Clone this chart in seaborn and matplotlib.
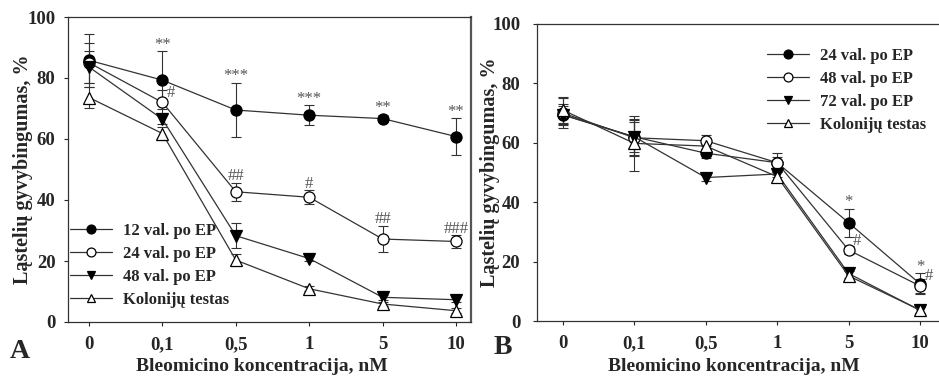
import numpy as np
import pandas as pd
import seaborn as sns
import matplotlib.pyplot as plt

# x categories (shared by both panels)
conc_labels = ['0', '0,1', '0,5', '1', '5', '10']

# panel A: viability (%) and error
a_names = ['12 val. po EP', '24 val. po EP', '48 val. po EP', 'Kolonijų testas']
a_12 = [85.8, 79.3, 69.5, 67.8, 66.7, 60.8]
a_12_err = [8.6, 9.5, 9.0, 3.2, 1.2, 6.0]
a_24 = [85.0, 72.0, 42.7, 40.9, 27.2, 26.4]
a_24_err = [6.6, 4.0, 3.0, 2.3, 4.3, 2.0]
a_48 = [83.6, 66.5, 28.3, 20.8, 8.1, 7.3]
a_48_err = [5.4, 1.5, 4.0, 0.8, 0.8, 0.8]
a_kol = [73.6, 61.8, 20.3, 10.9, 5.9, 3.7]
a_kol_err = [3.3, 2.0, 2.0, 0.8, 0.8, 0.8]

# panel B
b_names = ['24 val. po EP', '48 val. po EP', '72 val. po EP', 'Kolonijų testas']
b_24 = [69.4, 62.0, 56.5, 53.3, 33.1, 12.5]
b_24_err = [3.5, 6.0, 1.5, 2.0, 4.7, 3.5]
b_48 = [70.0, 61.7, 60.7, 53.3, 23.9, 11.8]
b_48_err = [5.0, 6.0, 1.8, 3.2, 1.5, 2.3]
b_72 = [69.4, 62.0, 48.3, 49.5, 16.0, 3.6]
b_72_err = [3.0, 5.0, 1.0, 1.0, 1.5, 1.0]
b_kol = [71.0, 59.8, 58.9, 48.6, 15.2, 3.7]
b_kol_err = [4.5, 9.2, 1.5, 1.5, 1.5, 1.0]

# significance marks: (series index, point index, text, where)
a_marks = [(0, 1, '**', 'up'), (0, 2, '***', 'up'), (0, 3, '***', 'up'),
           (0, 4, '**', 'up'), (0, 5, '**', 'up'),
           (1, 1, '#', 'right'), (1, 2, '##', 'up'), (1, 3, '#', 'up'),
           (1, 4, '##', 'up'), (1, 5, '###', 'up')]
b_marks = [(0, 4, '*', 'up'), (1, 4, '#', 'right'),
           (0, 5, '*', 'up'), (1, 5, '#', 'right')]

# marker style per series position: filled circle, open circle, filled down-tri, open up-tri
STYLES = [('o', 'black'), ('o', 'white'), ('v', 'black'), ('^', 'white')]

sns.set_style('ticks')
plt.rcParams['font.family'] = ['Liberation Serif', 'DejaVu Serif']
plt.rcParams['font.weight'] = 'bold'

LEG_PROP = {'family': 'Liberation Serif', 'weight': 'bold', 'size': 12}


def draw_panel(ax, names, values, errs, marks, xlim, ytick_pad):
    x = np.arange(len(conc_labels))
    for i, (name, v, e) in enumerate(zip(names, values, errs)):
        marker, face = STYLES[i]
        ax.errorbar(x, v, yerr=e, fmt='none', ecolor='#333333',
                    elinewidth=0.8, capsize=3.5, capthick=0.8, zorder=2)
        sns.lineplot(x=x, y=v, ax=ax, color='#333333', linewidth=0.9,
                     marker=marker, markersize=8, markerfacecolor=face,
                     markeredgecolor='black', markeredgewidth=0.9,
                     label=name, zorder=3)
    for si, pi, txt, where in marks:
        v = values[si][pi]
        e = errs[si][pi]
        if where == 'up':
            ax.text(pi, v + e - 0.5, txt, ha='center', va='bottom',
                    fontsize=12, color='#555555', fontweight='normal')
        else:
            ax.text(pi + 0.06, v + 0.5, txt, ha='left', va='bottom',
                    fontsize=12, color='#555555', fontweight='normal')
    ax.set_xlim(*xlim)
    ax.set_ylim(0, 100)
    ax.set_xticks(x)
    ax.set_xticklabels(conc_labels)
    ax.set_yticks(range(0, 101, 20))
    ax.tick_params(axis='x', direction='out', length=3, width=0.8,
                   labelsize=13.5, pad=7)
    ax.tick_params(axis='y', direction='out', length=3, width=0.8,
                   labelsize=13.5, pad=ytick_pad)
    for lab in ax.get_xticklabels() + ax.get_yticklabels():
        lab.set_fontweight('bold')
    ax.set_xlabel('Bleomicino koncentracija, nM', fontsize=14, fontweight='bold')
    ax.set_ylabel('Ląstelių gyvybingumas, %', fontsize=14.5, fontweight='bold')
    for sp in ax.spines.values():
        sp.set_color('#333333')
        sp.set_linewidth(0.9)


fig = plt.figure(figsize=(9.39, 3.79), dpi=100)
W, H = 939, 379

axA = fig.add_axes([68 / W, 57 / H, 403 / W, 305 / H])
draw_panel(axA, a_names, [a_12, a_24, a_48, a_kol],
           [a_12_err, a_24_err, a_48_err, a_kol_err], a_marks,
           (-0.286, 5.204), 6)
axA.spines['right'].set_color('#555555')
axA.spines['right'].set_linewidth(1.6)
axA.xaxis.set_label_coords(0.481, -0.117)
axA.yaxis.set_label_coords(-0.087, 0.5)
axA.legend(loc='upper left', bbox_to_anchor=(70 / W, 1 - 223 / H),
           bbox_transform=fig.transFigure, frameon=False, borderpad=0,
           borderaxespad=0, handlelength=2.5, handletextpad=0.7,
           labelspacing=0.42, markerscale=0.8, prop=LEG_PROP)

axB = fig.add_axes([537 / W, 58 / H, 402 / W, 297 / H])
draw_panel(axB, b_names, [b_24, b_48, b_72, b_kol],
           [b_24_err, b_48_err, b_72_err, b_kol_err], b_marks,
           (-0.364, 5.266), 9)
axB.spines['right'].set_visible(False)
axB.xaxis.set_label_coords(0.49, -0.124)
axB.yaxis.set_label_coords(-0.092, 0.5)
axB.legend(loc='upper left', bbox_to_anchor=(767 / W, 1 - 48 / H),
           bbox_transform=fig.transFigure, frameon=False, borderpad=0,
           borderaxespad=0, handlelength=2.5, handletextpad=0.7,
           labelspacing=0.42, markerscale=0.8, prop=LEG_PROP)

fig.text(20 / W, 1 - 351 / H, 'A', fontsize=20, fontweight='bold',
         ha='center', va='center')
fig.text(503 / W, 1 - 347 / H, 'B', fontsize=20, fontweight='bold',
         ha='center', va='center')

fig.savefig('out.png', dpi=100)
